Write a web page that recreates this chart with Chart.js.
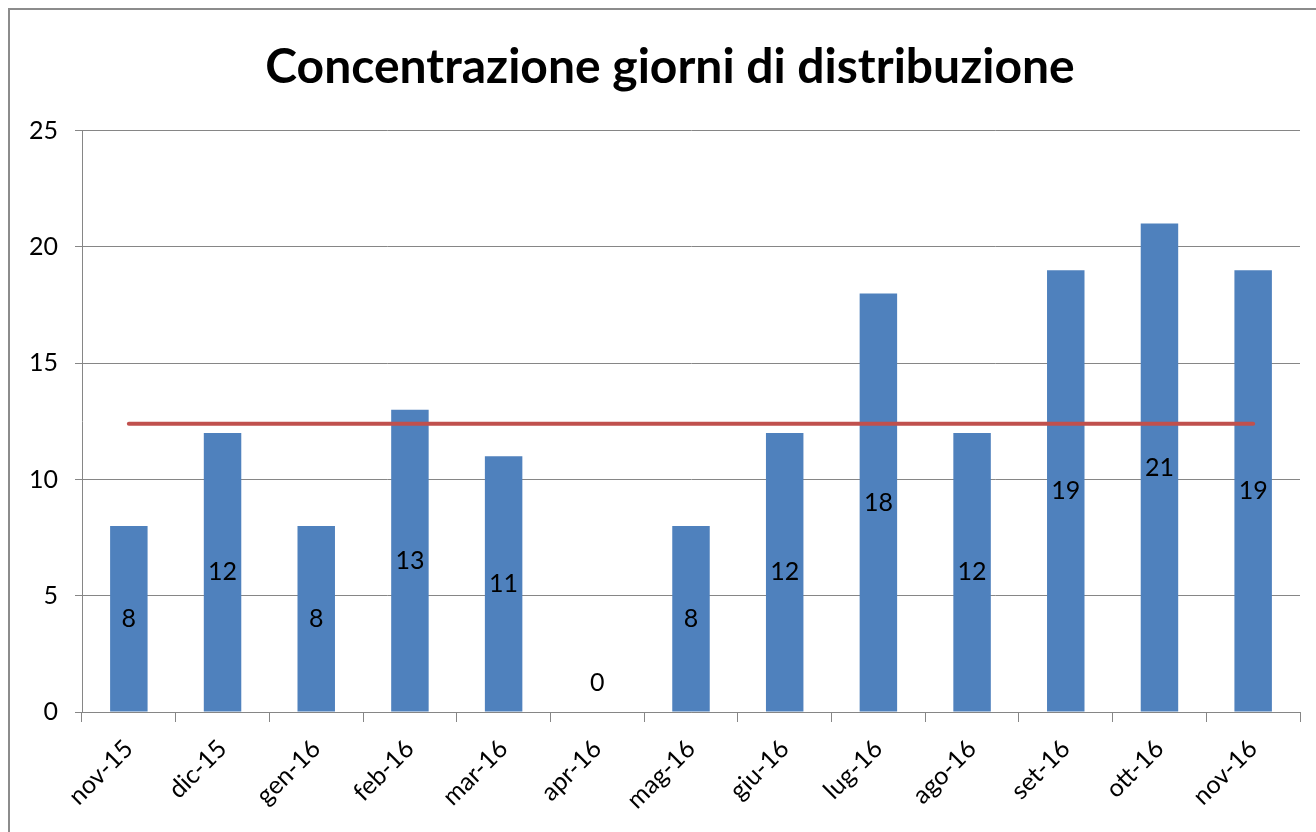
<!DOCTYPE html>
<html>
<head>
<meta charset="utf-8">
<script src="https://cdn.jsdelivr.net/npm/chart.js@4.4.1/dist/chart.umd.min.js"></script>
<style>
  html, body { margin: 0; padding: 0; background: #fff; overflow: hidden; }
  #frame { position: absolute; left: 8px; top: 8px; width: 2000px; height: 2000px; border: 2px solid #8c8c8c; }
  #wrap { position: absolute; left: 0; top: 0; width: 1316px; height: 832px; }
</style>
</head>
<body>
<div id="frame"></div>
<div id="wrap"><canvas id="giorni" width="1316" height="832"></canvas></div>
<script>
const mesi = ['nov-15', 'dic-15', 'gen-16', 'feb-16', 'mar-16', 'apr-16', 'mag-16',
              'giu-16', 'lug-16', 'ago-16', 'set-16', 'ott-16', 'nov-16'];
const giorni = [8, 12, 8, 13, 11, 0, 8, 12, 18, 12, 19, 21, 19];
const media = [12.4, 12.4, 12.4, 12.4, 12.4, 12.4, 12.4, 12.4, 12.4, 12.4, 12.4, 12.4, 12.4];
const yTicks = [0, 5, 10, 15, 20, 25];

const font_name = 'Lato, "Open Sans", sans-serif';

// etichette dei valori al centro delle barre
const barLabels = {
    id: 'barLabels',
    afterDatasetsDraw(chart) {
        const ctx = chart.ctx;
        const meta = chart.getDatasetMeta(1);
        ctx.save();
        ctx.font = '25px ' + font_name;
        ctx.fillStyle = '#000';
        ctx.textAlign = 'center';
        ctx.textBaseline = 'middle';
        meta.data.forEach((bar, i) => {
            let y = (bar.y + bar.base) / 2;
            if (giorni[i] === 0) y = bar.base - 29;
            ctx.fillText(String(giorni[i]), bar.x, y);
        });
        ctx.restore();
    }
};

new Chart(document.getElementById('giorni'), {
    type: 'bar',
    data: {
        labels: mesi,
        datasets: [
            {
                type: 'line',
                label: 'Media',
                data: media,
                borderColor: '#C0504D',
                borderWidth: 4,
                borderCapStyle: 'round',
                pointRadius: 0,
                order: 0
            },
            {
                label: 'Giorni',
                data: giorni,
                backgroundColor: '#4F81BD',
                barPercentage: 0.8,
                categoryPercentage: 0.5,
                order: 1
            }
        ]
    },
    options: {
        responsive: false,
        animation: false,
        layout: { padding: { left: 26, right: 2, top: 0, bottom: 0 } },
        plugins: {
            legend: { display: false },
            tooltip: { enabled: false },
            title: {
                display: true,
                text: 'Concentrazione giorni di distribuzione',
                color: '#000',
                font: { family: font_name, size: 48, weight: 'bold' },
                padding: { top: 39, bottom: 34 }
            }
        },
        scales: {
            x: {
                offset: true,
                grid: {
                    offset: true,
                    drawOnChartArea: false,
                    drawTicks: true,
                    tickLength: 10,
                    color: '#868686'
                },
                border: { color: '#868686', width: 1 },
                ticks: {
                    color: '#000',
                    font: { family: font_name, size: 25 },
                    maxRotation: 45,
                    minRotation: 45,
                    padding: 12
                },
                afterFit(scale) { scale.height = 120; }
            },
            y: {
                min: 0,
                max: 25,
                afterBuildTicks(scale) { scale.ticks = yTicks.map(v => ({ value: v })); },
                grid: { color: '#868686', tickLength: 7 },
                border: { color: '#868686', width: 1 },
                ticks: {
                    color: '#000',
                    font: { family: font_name, size: 25 },
                    padding: 17
                },
                afterFit(scale) { scale.width = 56; }
            },
            // asse vuoto a destra, solo per lasciare spazio
            spazio: {
                position: 'right',
                min: 0,
                max: 25,
                grid: { display: false },
                border: { display: false },
                ticks: { display: false },
                afterFit(scale) { scale.width = 14; }
            }
        }
    },
    plugins: [barLabels]
});
</script>
</body>
</html>
